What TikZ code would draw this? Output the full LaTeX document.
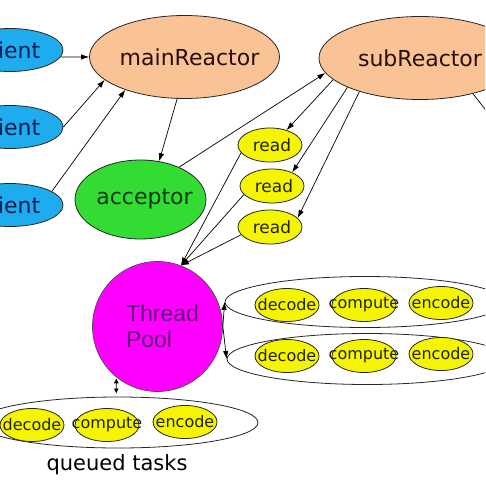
\documentclass[tikz,border=0pt]{standalone}
\usepackage{fontspec}
\setmainfont{DejaVu Sans}
\newfontfamily\poolfont{Liberation Sans}
\usetikzlibrary{shapes.geometric,arrows.meta}
\definecolor{clientblue}{RGB}{30,172,238}
\definecolor{clientink}{RGB}{15,30,85}
\definecolor{peach}{RGB}{250,195,150}
\definecolor{reactorink}{RGB}{40,15,15}
\definecolor{acceptgreen}{RGB}{50,220,50}
\definecolor{acceptink}{RGB}{15,55,15}
\definecolor{poolpink}{RGB}{255,0,255}
\definecolor{poolink}{RGB}{100,10,120}
\definecolor{taskyellow}{RGB}{245,245,0}
\definecolor{taskink}{RGB}{35,35,10}
\tikzset{
    blob/.style={ellipse, draw=black!85, line width=0.8pt, inner sep=0pt},
    client/.style={blob, fill=clientblue, minimum width=106pt, minimum height=43pt},
    reactor/.style={blob, fill=peach, minimum width=190pt, minimum height=83pt},
    readbox/.style={blob, fill=taskyellow, minimum width=64pt, minimum height=34pt},
    taskbox/.style={blob, fill=taskyellow, minimum width=64pt, minimum height=33pt},
    queuebox/.style={blob, minimum width=280pt, minimum height=51pt},
    bigtext/.style={font=\fontsize{22}{24}\selectfont},
    smalltext/.style={font=\fontsize{16}{18}\selectfont, text=taskink},
    tip/.tip={Latex[length=8pt,width=5.5pt]},
    smalltip/.tip={Latex[length=5pt,width=5pt]},
    arr/.style={-tip, line width=0.7pt},
}
\begin{document}
\begin{tikzpicture}[x=1pt, y=-1pt]
    \useasboundingbox (0,0) rectangle (485,486);
    \clip (0,0) rectangle (485,486);
    % clients on the left edge
    \foreach \y [count=\i] in {50,127,205}{
        \node[client, label={[bigtext, text=clientink]center:client}] (c\i) at (10,\y) {};
    }
    \node[reactor, label={[bigtext, text=reactorink, xshift=5pt]center:mainReactor}] (main) at (184.5,57) {};
    \node[reactor, minimum width=202pt, label={[bigtext, text=reactorink]center:subReactor}] (sub) at (420,58) {};
    \node[blob, fill=acceptgreen, minimum width=131pt, minimum height=79pt,
        label={[bigtext, text=acceptink, xshift=4pt]center:acceptor}] (acc) at (140.5,199.5) {};
    % the read handlers
    \foreach \x/\y [count=\i] in {270/145, 272/186, 270/227}{
        \node[readbox, label={[smalltext, font=\fontsize{17}{19}\selectfont, xshift=2pt]center:read}] (rd\i) at (\x,\y) {};
    }
    \node[circle, draw=black!70, line width=0.7pt, fill=poolpink, minimum size=130pt, inner sep=0pt,
        label={[font=\poolfont\fontsize{23}{26}\selectfont, text=poolink, align=left, xshift=5pt]center:Thread\\Pool}] (pool) at (157.5,326.5) {};
    % task chains
    \node[queuebox] (upT) at (365,302) {};
    \node[queuebox] (loT) at (367,359) {};
    \node[queuebox] (queue) at (118,422.5) {};
    \foreach \nm/\x/\d in {decode/287/0, compute/364/0, encode/441/-2}{
        \node[taskbox, label={[smalltext]center:\nm}] (up\nm) at (\x,305+\d) {};
        \node[taskbox, label={[smalltext]center:\nm}] (lo\nm) at (\x,356+\d) {};
    }
    \foreach \nm/\x/\d in {decode/32/0, compute/107/0, encode/185/-3}{
        \node[taskbox, label={[smalltext]center:\nm}] (q\nm) at (\x,425+\d) {};
    }
    \node[font=\fontsize{21}{24}\selectfont, anchor=base] (qlabel) at (117,470) {queued tasks};
    % connectors
    \coordinate (offright) at (492,118);
    \draw[arr] (c1.-8) -- (main.180);
    \draw[arr] (c2.east) -- (main.196);
    \draw[arr] (c3.18) -- (main.209);
    \draw[arr] (main.260) -- (acc.64);
    \draw[arr] (acc.40) -- (sub.189);
    \draw[arr] (sub.194) -- (rd1.42);
    \draw[arr] (sub.202) -- (rd2.34);
    \draw[arr] (sub.209) -- (rd3.18);
    \draw[line width=0.7pt] (sub.-34) -- (offright);
    \foreach \i/\a in {1/195, 2/197, 3/195}{
        \draw[arr] (rd\i.\a) -- (pool.69);
    }
    \draw[arr] (pool.east) -- (upT.west);
    \draw[arr] (pool.east) -- (loT.west);
    \draw[line width=0.7pt, smalltip-smalltip, shorten >=3pt, shorten <=1pt] (pool.231) -- (queue.94);
\end{tikzpicture}
\end{document}
